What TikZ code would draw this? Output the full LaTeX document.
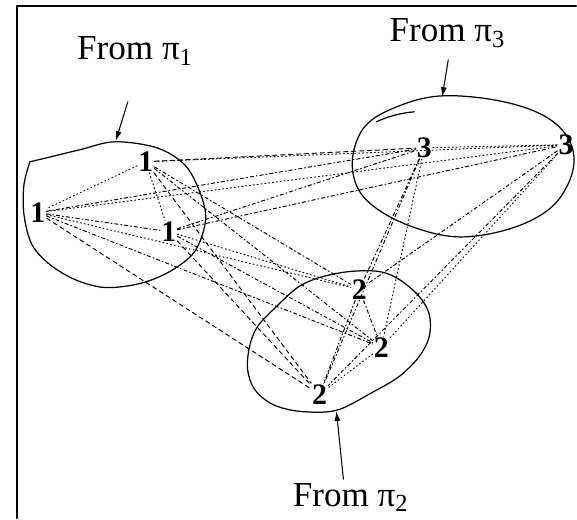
\documentclass[tikz,border=0pt]{standalone}
\usepackage{fontspec}
\setmainfont{Liberation Serif}
\usepackage{tikz}
\usetikzlibrary{arrows.meta}

\tikzset{
  digit/.style={font=\fontsize{17}{17}\selectfont\bfseries,inner sep=0.5pt},
  fromlabel/.style={font=\fontsize{20}{22}\selectfont,inner sep=0pt},
  blob/.style={line width=0.7pt},
  dotline/.style={line width=0.55pt,dash pattern=on 0.6pt off 1.6pt},
  dashdotline/.style={line width=0.55pt,dash pattern=on 2pt off 1.5pt on 0.6pt off 1.5pt},
  dashline/.style={line width=0.55pt,dash pattern=on 2.5pt off 2pt},
  pointer/.style={line width=0.6pt,-{Latex[length=5.5pt,width=3.5pt]}}
}

\begin{document}
\begin{tikzpicture}[x=0.02cm,y=-0.02cm,line cap=round,line join=round]
  % white background and frame
  \fill[white] (0,0) rectangle (577,519);
  \draw[line width=1.1pt] (17,519) -- (17,6) -- (577,6);

  % cluster outlines
  \draw[blob] (30,162) -- (43,159) plot[smooth,tension=0.55] coordinates {
    (43,159) (80,150) (115,142) (157,148) (185,165) (200,192) (206,220)
    (195,252) (170,272) (140,284) (105,288) (75,280) (50,265) (32,245)
    (24,215) (24,185) (30,162)};
  \draw[blob] plot[smooth cycle,tension=0.6] coordinates {
    (353,160) (366,126) (400,106) (443,96) (500,101) (545,116) (570,140)
    (574,170) (557,203) (525,224) (480,236) (440,235) (392,218) (361,193)};
  \draw[blob] (377,122) .. controls (390,116) and (403,113) .. (415,112);
  \draw[blob] plot[smooth cycle,tension=0.55] coordinates {
    (250,347) (258,327) (277,307) (298,288) (320,278) (350,272) (380,272)
    (400,280) (420,297) (430,315) (430,337) (420,357) (400,377) (373,393)
    (337,411) (300,412) (273,405) (255,390) (248,370)};

  % points
  \node[digit] (o1a) at (146,162) {1};
  \node[digit] (o1b) at (38,213) {1};
  \node[digit] (o1c) at (169,232) {1};
  \node[digit] (o2a) at (360,290) {2};
  \node[digit] (o2b) at (382,348) {2};
  \node[digit] (o2c) at (320,395) {2};
  \node[digit] (o3a) at (425,148) {3};
  \node[digit] (o3b) at (567,145) {3};

  % connections
  \foreach \a/\b/\s in {o1a/o1b/dotline, o1a/o1c/dotline, o1b/o1c/dashdotline,
      o2a/o2b/dashdotline, o2a/o2c/dashdotline, o2b/o2c/dotline, o3a/o3b/dotline,
      o1a/o3a/dashline, o1a/o3b/dotline, o1b/o3a/dashdotline, o1b/o3b/dotline,
      o1c/o3a/dashdotline, o1c/o3b/dashdotline,
      o1a/o2a/dashdotline, o1a/o2b/dashdotline, o1a/o2c/dashline,
      o1b/o2a/dotline, o1b/o2b/dashdotline, o1b/o2c/dashline,
      o1c/o2a/dotline, o1c/o2b/dashdotline, o1c/o2c/dashline,
      o3a/o2a/dashdotline, o3a/o2b/dotline, o3a/o2c/dashdotline,
      o3b/o2a/dashdotline, o3b/o2b/dotline, o3b/o2c/dashdotline}
    \draw[\s] (\a) -- (\b);

  % labels and pointers
  \node[fromlabel,anchor=base west] (from1) at (77,60) {From π\textsubscript{1}};
  \node[fromlabel,anchor=base west] (from3) at (390,42) {From π\textsubscript{3}};
  \node[fromlabel,anchor=base west] (from2) at (293,507) {From π\textsubscript{2}};
  \coordinate (top1) at (116,141);
  \coordinate (top3) at (443,97);
  \coordinate (bot2) at (337,412);
  \draw[pointer] (128,102) -- (top1);
  \draw[pointer] (449,60) -- (top3);
  \draw[pointer] (344,480) -- (bot2);
\end{tikzpicture}
\end{document}
